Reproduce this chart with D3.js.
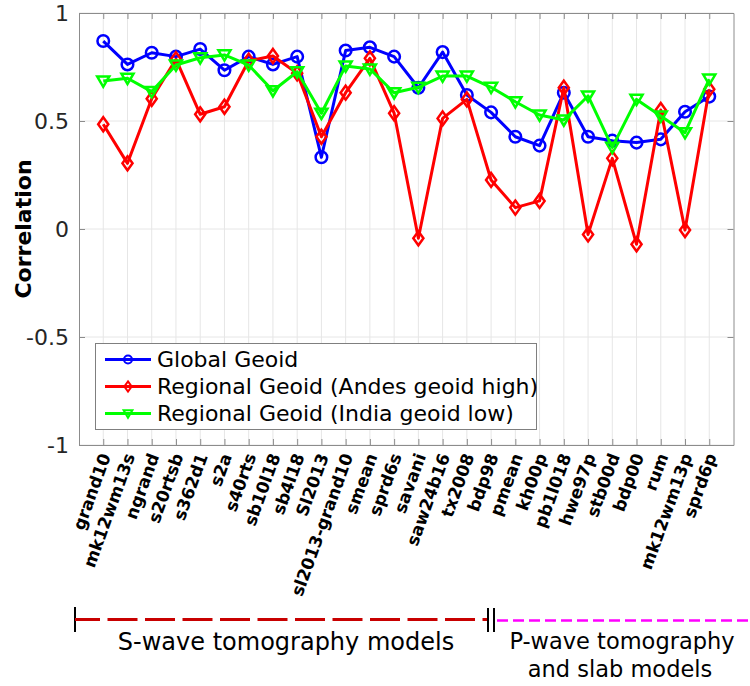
<!DOCTYPE html>
<html>
<head>
<meta charset="utf-8">
<script src="https://cdn.jsdelivr.net/npm/d3@7"></script>
<style>
  html, body { margin: 0; padding: 0; background: #fff; }
  svg { display: block; }
  text { font-family: "DejaVu Sans", sans-serif; }
</style>
</head>
<body>
<svg id="chart" width="750" height="686"></svg>
<script>
// Tomography models compared against the geoid
const models = ["grand10", "mk12wm13s", "ngrand", "s20rtsb", "s362d1", "s2a", "s40rts",
  "sb10l18", "sb4l18", "Sl2013", "sl2013-grand10", "smean", "sprd6s", "savani", "saw24b16",
  "tx2008", "bdp98", "pmean", "kh00p", "pb1l018", "hwe97p", "stb00d", "bdp00", "rum",
  "mk12wm13p", "sprd6p"];

const globalGeoid = [0.870, 0.762, 0.816, 0.798, 0.833, 0.735, 0.798, 0.762, 0.798, 0.332,
  0.826, 0.841, 0.798, 0.654, 0.819, 0.620, 0.540, 0.427, 0.386, 0.631, 0.427, 0.409,
  0.400, 0.415, 0.543, 0.613];
const andesGeoid = [0.485, 0.304, 0.603, 0.786, 0.531, 0.566, 0.779, 0.801, 0.721, 0.427,
  0.631, 0.790, 0.536, -0.043, 0.512, 0.600, 0.227, 0.099, 0.130, 0.654, -0.025, 0.327,
  -0.071, 0.551, -0.005, 0.647];
const indiaGeoid = [0.685, 0.698, 0.636, 0.759, 0.793, 0.806, 0.759, 0.640, 0.728, 0.536,
  0.755, 0.741, 0.631, 0.656, 0.708, 0.708, 0.656, 0.589, 0.528, 0.505, 0.616, 0.378,
  0.600, 0.523, 0.446, 0.694];

const seriesNames = ["Global Geoid", "Regional Geoid (Andes geoid high)", "Regional Geoid (India geoid low)"];
const seriesColors = ["#0000ff", "#ff0000", "#00ff00"];
const seriesMarkers = ["circle", "diamond", "triangle"];
const yTicks = [-1, -0.5, 0, 0.5, 1];
const yTickLabels = ["-1", "-0.5", "0", "0.5", "1"];

const series = [globalGeoid, andesGeoid, indiaGeoid].map((vals, i) => ({
  name: seriesNames[i], color: seriesColors[i], marker: seriesMarkers[i], values: vals
}));

const svg = d3.select("#chart");
const plot = { left: 79, right: 733.5, top: 13, bottom: 445 };

const x = d3.scaleLinear().domain([0, models.length + 1]).range([plot.left, plot.right]);
const y = d3.scaleLinear().domain([-1, 1]).range([plot.bottom, plot.top]);
const xPos = i => x(i + 1);

const axisColor = "#8c8c8c";
const textColor = "#262626";

// grid
const grid = svg.append("g");
models.forEach((m, i) => {
  grid.append("line").attr("x1", xPos(i)).attr("x2", xPos(i))
    .attr("y1", plot.top).attr("y2", plot.bottom)
    .attr("stroke", "#e6e6e6").attr("stroke-width", 1);
});
yTicks.forEach(t => {
  grid.append("line").attr("x1", plot.left).attr("x2", plot.right)
    .attr("y1", y(t)).attr("y2", y(t))
    .attr("stroke", "#e6e6e6").attr("stroke-width", 1);
});

// axes (inward ticks on all four sides)
const tickLen = 6;
const axBottom = d3.axisBottom(x).tickValues(models.map((m, i) => i + 1))
  .tickSizeInner(-tickLen).tickSizeOuter(0).tickFormat("");
const axTop = d3.axisTop(x).tickValues(models.map((m, i) => i + 1))
  .tickSizeInner(-tickLen).tickSizeOuter(0).tickFormat("");
const axLeft = d3.axisLeft(y).tickValues(yTicks)
  .tickSizeInner(-tickLen).tickSizeOuter(0).tickFormat("");
const axRight = d3.axisRight(y).tickValues(yTicks)
  .tickSizeInner(-tickLen).tickSizeOuter(0).tickFormat("");

function styleAxis(g) {
  g.selectAll("path").attr("stroke", axisColor).attr("stroke-width", 1);
  g.selectAll("line").attr("stroke", axisColor).attr("stroke-width", 1);
}
svg.append("g").attr("transform", `translate(0,${plot.bottom})`).call(axBottom).call(styleAxis);
svg.append("g").attr("transform", `translate(0,${plot.top})`).call(axTop).call(styleAxis);
svg.append("g").attr("transform", `translate(${plot.left},0)`).call(axLeft).call(styleAxis);
svg.append("g").attr("transform", `translate(${plot.right},0)`).call(axRight).call(styleAxis);

// y tick labels
yTicks.forEach((t, i) => {
  svg.append("text").attr("x", plot.left - 10).attr("y", y(t))
    .attr("dy", "0.36em").attr("text-anchor", "end")
    .attr("font-size", 22).attr("fill", textColor).text(yTickLabels[i]);
});

// y axis title
svg.append("text")
  .attr("transform", `translate(31,${(plot.top + plot.bottom) / 2}) rotate(-90)`)
  .attr("text-anchor", "middle").attr("font-size", 22).attr("font-weight", "bold")
  .attr("fill", "#000").text("Correlation");

// x tick labels (rotated)
models.forEach((m, i) => {
  svg.append("text")
    .attr("transform", `translate(${xPos(i) + 2},${plot.bottom + 9}) rotate(-70)`)
    .attr("text-anchor", "end").attr("dy", "0.36em")
    .attr("font-size", 17).attr("font-weight", "bold").attr("fill", "#000")
    .text(m);
});

// marker shapes
function markerPath(type, size) {
  if (type === "circle") return d3.symbol(d3.symbolCircle, size)();
  if (type === "diamond") {
    const h = Math.sqrt(size) * 0.72;
    const w = h * 0.72;
    return `M0,${-h}L${w},0L0,${h}L${-w},0Z`;
  }
  const s = Math.sqrt(size) * 0.62;
  return `M${-s},${-s * 0.75}L${s},${-s * 0.75}L0,${s * 0.95}Z`;
}

const line = d3.line().x((d, i) => xPos(i)).y(d => y(d));

series.forEach(s => {
  const g = svg.append("g");
  g.append("path").datum(s.values).attr("d", line)
    .attr("fill", "none").attr("stroke", s.color).attr("stroke-width", 3)
    .attr("stroke-linejoin", "round");
  g.selectAll("path.mk").data(s.values).join("path").attr("class", "mk")
    .attr("transform", (d, i) => `translate(${xPos(i)},${y(d)})`)
    .attr("d", markerPath(s.marker, s.marker === "circle" ? 105 : 95))
    .attr("fill", "none").attr("stroke", s.color).attr("stroke-width", 2.5);
});

// legend
const lg = svg.append("g");
lg.append("rect").attr("x", 95.5).attr("y", 343.5).attr("width", 441).attr("height", 86)
  .attr("fill", "#fff").attr("stroke", "#7f7f7f").attr("stroke-width", 1);
series.forEach((s, i) => {
  const cy = 359.5 + i * 27;
  lg.append("line").attr("x1", 105).attr("x2", 151).attr("y1", cy).attr("y2", cy)
    .attr("stroke", s.color).attr("stroke-width", 3);
  lg.append("path").attr("transform", `translate(128,${cy})`)
    .attr("d", markerPath(s.marker, 50))
    .attr("fill", "none").attr("stroke", s.color).attr("stroke-width", 2);
  lg.append("text").attr("x", 157).attr("y", cy).attr("dy", "0.36em")
    .attr("font-size", 22).attr("fill", "#000").text(s.name);
});

// model group annotation below the chart
const ann = svg.append("g");
const annY = 619.5;
ann.append("line").attr("x1", 75).attr("x2", 75).attr("y1", 607).attr("y2", 632)
  .attr("stroke", "#000").attr("stroke-width", 2);
ann.append("line").attr("x1", 75).attr("x2", 488).attr("y1", annY).attr("y2", annY)
  .attr("stroke", "#c80000").attr("stroke-width", 3)
  .attr("stroke-dasharray", "30,7.5").attr("stroke-dashoffset", 5);
ann.append("line").attr("x1", 488).attr("x2", 488).attr("y1", 608).attr("y2", 632)
  .attr("stroke", "#000").attr("stroke-width", 2);
ann.append("line").attr("x1", 494).attr("x2", 494).attr("y1", 608).attr("y2", 632)
  .attr("stroke", "#000").attr("stroke-width", 2);
ann.append("line").attr("x1", 497).attr("x2", 750).attr("y1", annY + 1).attr("y2", annY + 1)
  .attr("stroke", "#ff00ff").attr("stroke-width", 2.5)
  .attr("stroke-dasharray", "11,5");
ann.append("text").attr("x", 286).attr("y", 650).attr("text-anchor", "middle")
  .attr("font-size", 24).attr("fill", "#000").text("S-wave tomography models");
ann.append("text").attr("x", 622).attr("y", 649).attr("text-anchor", "middle")
  .attr("font-size", 22.5).attr("fill", "#000").text("P-wave tomography");
ann.append("text").attr("x", 620).attr("y", 677).attr("text-anchor", "middle")
  .attr("font-size", 22.5).attr("fill", "#000").text("and slab models");
</script>
</body>
</html>
